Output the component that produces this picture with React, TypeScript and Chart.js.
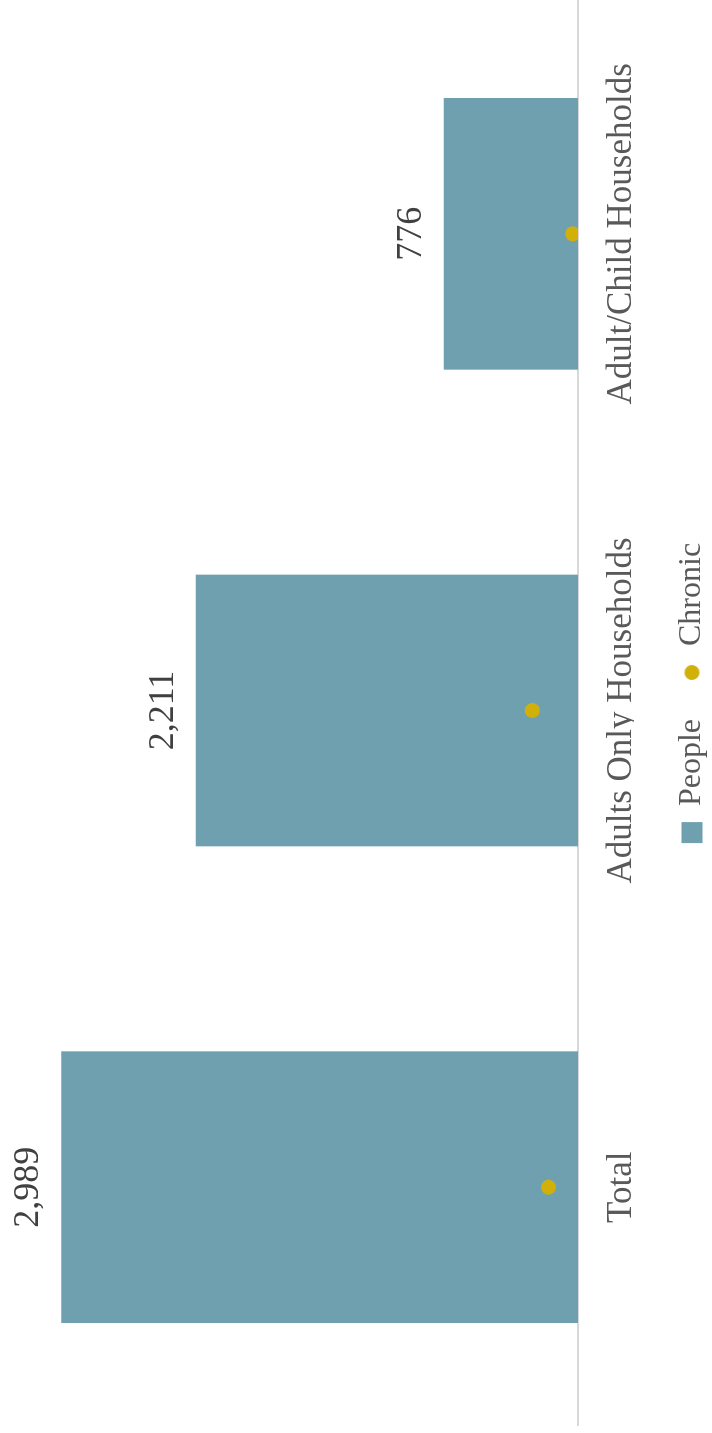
import { useEffect, useRef } from 'react';
import { Chart, registerables } from 'chart.js';

Chart.register(...registerables);

const categories = ['Total', 'Adults Only Households', 'Adult/Child Households'];
const peopleValues = [2989, 2211, 776];
const chronicValues = [171, 264, 31];
const seriesLabels = ['People', 'Chronic'];

const TEAL = '#6fa0b0';
const GOLD = '#d1b00a';
const FONT = "'Liberation Serif', 'Times New Roman', serif";
const LEGEND_PAD = 36;
const LEGEND_FONT = 32;
const CANVAS_W = 1445;

export default function App() {
  const ref = useRef<HTMLCanvasElement>(null);

  useEffect(() => {
    const canvas = ref.current;
    if (!canvas) return;

    const dot = document.createElement('canvas');
    dot.width = 21;
    dot.height = 21;
    const dctx = dot.getContext('2d')!;
    dctx.fillStyle = GOLD;
    dctx.beginPath();
    dctx.arc(10.5, 10.5, 7.5, 0, Math.PI * 2);
    dctx.fill();

    const valueLabels = {
      id: 'valueLabels',
      afterDatasetsDraw(chart: any) {
        const meta = chart.getDatasetMeta(0);
        const ctx = chart.ctx;
        ctx.save();
        ctx.font = `36px ${FONT}`;
        ctx.fillStyle = '#404040';
        ctx.textAlign = 'center';
        ctx.textBaseline = 'alphabetic';
        meta.data.forEach((el: any, i: number) => {
          ctx.fillText(peopleValues[i].toLocaleString('en-US'), el.x, el.y - 23);
        });
        ctx.restore();
      },
    };

    const legendShift = {
      id: 'legendShift',
      afterLayout(chart: any) {
        const lg = chart.legend;
        if (!lg) return;
        const dx = 740 - (lg.left + lg.right) / 2;
        const dy = 692 - (lg.top + LEGEND_PAD + LEGEND_FONT / 2);
        lg.left += dx;
        lg.right += dx;
        lg.top += dy;
        lg.bottom += dy;
      },
    };

    const chart = new Chart(canvas, {
      type: 'bar',
      data: {
        labels: categories,
        datasets: [
          {
            type: 'bar',
            label: seriesLabels[0],
            data: peopleValues,
            backgroundColor: TEAL,
            borderWidth: 0,
            categoryPercentage: 1,
            barPercentage: 0.57,
            order: 1,
          } as any,
          {
            type: 'line',
            label: seriesLabels[1],
            data: chronicValues,
            showLine: false,
            pointStyle: 'circle',
            pointRadius: 7.5,
            pointHoverRadius: 7.5,
            pointBackgroundColor: GOLD,
            pointBorderWidth: 0,
            borderColor: GOLD,
            order: 0,
          } as any,
        ],
      },
      options: {
        responsive: false,
        animation: false,
        events: [],
        layout: { padding: { left: 2, top: 6, right: 0, bottom: 0 } },
        plugins: {
          tooltip: { enabled: false },
          legend: {
            position: 'bottom',
            labels: {
              usePointStyle: true,
              boxWidth: 21,
              boxHeight: 21,
              padding: LEGEND_PAD,
              color: '#595959',
              font: { family: FONT, size: LEGEND_FONT },
              generateLabels: () => [
                {
                  text: seriesLabels[0],
                  fillStyle: TEAL,
                  strokeStyle: TEAL,
                  lineWidth: 0,
                  pointStyle: 'rect',
                  hidden: false,
                  datasetIndex: 0,
                  fontColor: '#595959',
                },
                {
                  text: seriesLabels[1],
                  fillStyle: GOLD,
                  strokeStyle: GOLD,
                  lineWidth: 0,
                  pointStyle: dot as any,
                  hidden: false,
                  datasetIndex: 1,
                  fontColor: '#595959',
                },
              ] as any,
            },
          },
        },
        scales: {
          x: {
            grid: { display: false, drawTicks: false },
            border: { display: true, color: '#d9d9d9', width: 2 },
            ticks: {
              color: '#595959',
              padding: 23,
              maxRotation: 0,
              minRotation: 0,
              font: { family: FONT, size: 35 },
            },
            afterFit: (scale: any) => {
              scale.height = 56;
            },
          },
          y: {
            display: false,
            min: 0,
            max: 3300,
          },
        },
      },
      plugins: [valueLabels, legendShift],
    });

    return () => chart.destroy();
  }, []);

  return (
    <div
      style={{
        position: 'absolute',
        top: 0,
        left: 0,
        width: 712,
        height: 1433,
        overflow: 'hidden',
        background: '#ffffff',
      }}
    >
      <div
        style={{
          position: 'absolute',
          top: 0,
          left: 0,
          width: CANVAS_W,
          height: 712,
          transformOrigin: '0 0',
          transform: 'translate(0px, 1433px) rotate(-90deg)',
        }}
      >
        <canvas ref={ref} width={CANVAS_W} height={712} style={{ display: 'block' }} />
      </div>
    </div>
  );
}
